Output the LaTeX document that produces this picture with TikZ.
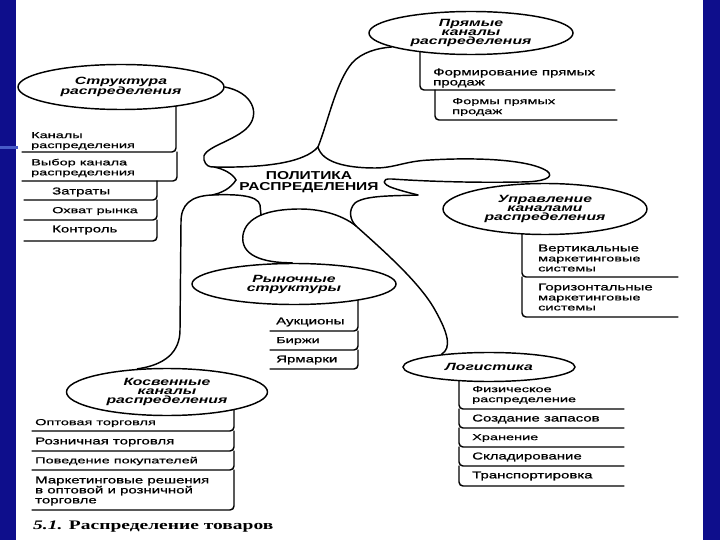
\documentclass[tikz,border=0pt]{standalone}
\usepackage{fontspec}
\setmainfont{Liberation Sans}
\usetikzlibrary{shapes.geometric}
\newfontfamily\itemfam[FakeStretch=1.5,FakeBold=0.9]{Liberation Sans}
\newfontfamily\smallfam[FakeStretch=1.65,FakeBold=0.6]{Liberation Sans}
\newfontfamily\ellfam[FakeStretch=1.5]{Liberation Sans}
\newfontfamily\centfam[FakeStretch=1.35]{Liberation Sans}
\newfontfamily\capfam[FakeStretch=1.5]{Liberation Serif}
\newcommand\ITf{\itemfam\fontsize{10}{10}\selectfont}
\newcommand\SMf{\smallfam\fontsize{8.8}{10}\selectfont}
\newcommand\ELf{\ellfam\bfseries\itshape\fontsize{10.5}{9}\selectfont}
\newcommand\CEf{\centfam\bfseries\fontsize{11.5}{11}\selectfont}
\newcommand\CAPf{\capfam\bfseries\fontsize{13}{14}\selectfont}
\definecolor{navy}{RGB}{14,14,140}
\definecolor{lightnavy}{RGB}{70,90,200}
\pgfdeclarelayer{back}
\pgfdeclarelayer{bg}
\pgfsetlayers{back,bg,main}
\tikzset{
  ln/.style={line width=1.45pt, line join=round, line cap=round},
  bracket/.style={ln, rounded corners=4pt},
  oval/.style={draw, ellipse, fill=white, line width=1.45pt, inner sep=0pt, align=center, font=\ELf},
  itm/.style={anchor=west, inner sep=0pt, align=left, font=\ITf},
  sitm/.style={anchor=west, inner sep=0pt, align=left, font=\SMf},
}
\begin{document}
\begin{tikzpicture}[x=1pt, y=-1pt]
\begin{pgfonlayer}{back}
  \fill[white] (0,0) rectangle (720,540);
  \fill[navy] (0,0) rectangle (16,540);
  \fill[navy] (703,0) rectangle (720,540);
  \fill[lightnavy] (0,146.5) rectangle (18,149);
\end{pgfonlayer}
\useasboundingbox (0,0) rectangle (720,540);

% ellipses
\node[oval, minimum width=204pt, minimum height=43pt] (pr) at (471,33) {Прямые\\каналы\\распределения};
\node[oval, minimum width=206pt, minimum height=45pt] (st) at (121,87) {Структура\\распределения};
\node[oval, minimum width=204pt, minimum height=51pt] (up) at (545,209) {Управление\\каналами\\распределения};
\node[oval, minimum width=204pt, minimum height=41pt] (rs) at (294,284) {Рыночные\\структуры};
\node[oval, minimum width=201pt, minimum height=47pt] (kk) at (167,392) {Косвенные\\каналы\\распределения};
\node[oval, minimum width=172pt, minimum height=29pt] (lg) at (489,367) {Логистика};

% centre
\node[inner sep=0pt, align=center, font=\CEf] (pol) at (309,182) {ПОЛИТИКА\\РАСПРЕДЕЛЕНИЯ};

% junction coordinates of the central blob
\coordinate (J1) at (318,147);
\coordinate (PL) at (236,180);
\coordinate (PR) at (418,195);
\coordinate (JB) at (356,226);
\coordinate (JL) at (214,167);
\coordinate (JD) at (212,195);
\coordinate (JE) at (261,215);

% blob curves
\draw[ln] (st.east) .. controls (252,92) and (262,114) .. (246,129)
  .. controls (230,143) and (200,148) .. (204,160)
  .. controls (206,166) and (209,167) .. (JL)
  .. controls (224,169) and (233,174) .. (PL);
\draw[ln] (J1) .. controls (305,162) and (268,168) .. (JL);
\draw[ln] (PL) .. controls (231,188) and (222,193) .. (JD);
\draw[ln] (kk.142) .. controls (165,365) and (180,352) .. (180,330) -- (181,222)
  .. controls (181,205) and (190,196) .. (JD)
  .. controls (235,194) and (258,195) .. (260,205) -- (JE);
\draw[ln] (J1) .. controls (328,122) and (336,82) .. (352,63)
  .. controls (362,52) and (378,48) .. (pr.190);
\draw[ln] (J1) .. controls (322,162) and (345,168) .. (375,168)
  .. controls (395,168) and (405,161) .. (430,160)
  .. controls (480,157) and (530,160) .. (547,171)
  .. controls (555,177) and (545,182) .. (520,182)
  .. controls (470,183) and (420,181) .. (392,179)
  .. controls (380,178) and (383,185) .. (393,188)
  .. controls (402,191) and (410,193) .. (PR);
\draw[ln] (PR) .. controls (395,196) and (365,195) .. (355,203)
  .. controls (348,210) and (350,220) .. (JB)
  .. controls (385,252) and (420,283) .. (435,310)
  .. controls (448,333) and (452,348) .. (lg.165);
\draw[ln] (rs.95) .. controls (262,263) and (240,255) .. (243,235)
  .. controls (246,217) and (268,209) .. (300,209)
  .. controls (325,209) and (345,217) .. (JB);

% brackets of the lists
\begin{pgfonlayer}{bg}
  % Прямые
  \draw[bracket] (420,40) -- (420,90) -- (615,90);
  \draw[bracket] (435,90) -- (435,120) -- (617,120);
  % Структура
  \draw[bracket] (176,95) -- (176,152) -- (22,152);
  \draw[bracket] (177,152) -- (177,181) -- (22,181);
  \draw[bracket] (157,181) -- (157,200) -- (24,200);
  \draw[bracket] (157,200) -- (157,220) -- (24,220);
  \draw[bracket] (157,220) -- (157,241) -- (24,241);
  % Управление
  \draw[bracket] (522,215) -- (522,277) -- (678,277);
  \draw[bracket] (522,277) -- (522,317) -- (678,317);
  % Рыночные
  \draw[bracket] (358,290) -- (358,331) -- (270,331);
  \draw[bracket] (358,331) -- (358,350) -- (270,350);
  \draw[bracket] (358,350) -- (358,369) -- (270,369);
  % Косвенные
  \draw[bracket] (234,400) -- (234,431) -- (32,431);
  \draw[bracket] (234,431) -- (234,451) -- (32,451);
  \draw[bracket] (234,451) -- (234,470) -- (32,470);
  \draw[bracket] (234,470) -- (234,510) -- (32,510);
  % Логистика
  \draw[bracket] (459,372) -- (459,409) -- (624,409);
  \draw[bracket] (459,409) -- (459,428) -- (624,428);
  \draw[bracket] (459,428) -- (459,447) -- (624,447);
  \draw[bracket] (459,447) -- (459,466) -- (624,466);
  \draw[bracket] (459,466) -- (459,486) -- (624,486);
\end{pgfonlayer}

% list texts
\node[itm] (pr1) at (433,78) {Формирование прямых\\продаж};
\node[sitm] (pr2) at (452,107) {Формы прямых\\продаж};

\node[sitm] (st1) at (31,141) {Каналы\\распределения};
\node[sitm] (st2) at (31,168) {Выбор канала\\распределения};
\node[itm] (st3) at (52,192) {Затраты};
\node[sitm] (st4) at (52,211) {Охват рынка};
\node[itm] (st5) at (52,230) {Контроль};

\node[itm] (up1) at (538,258) {Вертикальные\\{\SMf маркетинговые}\\{\SMf системы}};
\node[itm] (up2) at (538,297) {Горизонтальные\\{\SMf маркетинговые}\\{\SMf системы}};

\node[itm] (rs1) at (276,322) {Аукционы};
\node[sitm] (rs2) at (276,341) {Биржи};
\node[itm] (rs3) at (276,360) {Ярмарки};

\node[sitm] (kk1) at (35,423) {Оптовая торговля};
\node[itm] (kk2) at (35,442) {Розничная торговля};
\node[sitm] (kk3) at (35,461) {Поведение покупателей};
\node[itm] (kk4) at (35,491) {Маркетинговые решения\\в оптовой и розничной\\торговле};

\node[sitm] (lg1) at (472,395) {Физическое\\распределение};
\node[itm] (lg2) at (472,419) {Создание запасов};
\node[sitm] (lg3) at (472,438) {Хранение};
\node[itm] (lg4) at (472,457) {Складирование};
\node[itm] (lg5) at (472,476) {Транспортировка};

% caption
\node[anchor=west, inner sep=0pt, font=\CAPf] (cap) at (33,527) {\itshape 5.1. \upshape Распределение товаров};
\end{tikzpicture}
\end{document}
